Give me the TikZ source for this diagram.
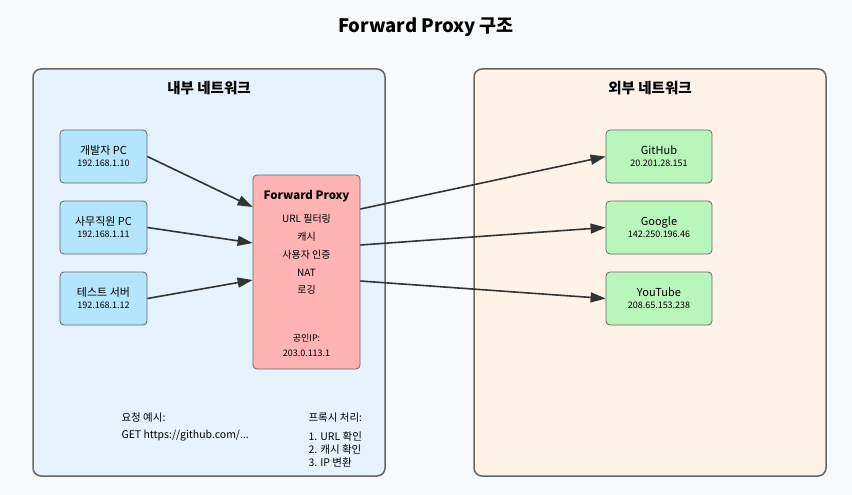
\documentclass[tikz,border=0pt]{standalone}
\usepackage{fontspec}
\setmainfont{Noto Sans CJK KR}
\usetikzlibrary{arrows.meta}
\definecolor{bgcol}{HTML}{F8F9FA}
\definecolor{innercol}{HTML}{E6F3FE}
\definecolor{outercol}{HTML}{FFF3E7}
\definecolor{clientcol}{HTML}{B3E5FC}
\definecolor{proxycol}{HTML}{FFB3B3}
\definecolor{servercol}{HTML}{B9F6BC}
\definecolor{edgecol}{HTML}{666666}
\definecolor{arrowcol}{HTML}{333333}

\begin{document}
\begin{tikzpicture}[x=1pt, y=-1pt]
    \tikzstyle{panel}=[draw=edgecol, line width=1.5pt, rounded corners=8pt, minimum width=352pt, minimum height=407pt, inner sep=0pt]
    \tikzstyle{host}=[draw=edgecol, line width=0.8pt, rounded corners=4pt, minimum width=87pt, minimum height=53pt, align=center, inner sep=0pt, font=\fontsize{11}{15}\selectfont]
    \tikzstyle{ip}=[font=\fontsize{9}{10}\selectfont]
    \tikzstyle{item}=[font=\fontsize{10}{11}\selectfont]
    \tikzstyle{note}=[anchor=west, font=\fontsize{10.5}{13}\selectfont]
    \tikzstyle{link}=[-{Triangle[length=15pt, width=10pt]}, draw=arrowcol, line width=1.6pt, fill=arrowcol]

    % Background
    \fill[bgcol] (0,0) rectangle (852,495);
    \useasboundingbox (0,0) rectangle (852,495);

    % Title
    \node[font=\fontsize{18.5}{20}\selectfont\bfseries] (title) at (426, 27) {Forward Proxy 구조};

    % Networks
    \node[panel, fill=innercol] (inner) at (209, 272.5) {};
    \node[panel, fill=outercol] (outer) at (650, 272.5) {};
    \node[font=\fontsize{14.5}{16}\selectfont\bfseries] (innerlabel) at (209, 88) {내부 네트워크};
    \node[font=\fontsize{14.5}{16}\selectfont\bfseries] (outerlabel) at (650, 88) {외부 네트워크};

    % Clients
    \node[host, fill=clientcol] (dev) at (103.5, 156.5) {개발자 PC\\[-3pt]{\fontsize{9}{10}\selectfont 192.168.1.10}};
    \node[host, fill=clientcol] (office) at (103.5, 227.5) {사무직원 PC\\[-3pt]{\fontsize{9}{10}\selectfont 192.168.1.11}};
    \node[host, fill=clientcol] (test) at (103.5, 298.5) {테스트 서버\\[-3pt]{\fontsize{9}{10}\selectfont 192.168.1.12}};

    % Proxy
    \node[draw=edgecol, line width=0.8pt, rounded corners=4pt, fill=proxycol, minimum width=107pt, minimum height=194pt] (proxy) at (306.5, 272) {};
    \node[font=\fontsize{11.5}{12}\selectfont\bfseries] (pname) at (306.5, 196) {Forward Proxy};
    \node[item] (f1) at (306.5, 219) {URL 필터링};
    \node[item] (f2) at (306.5, 237) {캐시};
    \node[item] (f3) at (306.5, 255) {사용자 인증};
    \node[item] (f4) at (306.5, 273) {NAT};
    \node[item] (f5) at (306.5, 290) {로깅};
    \node[ip] (pubip) at (306.5, 338) {공인IP:};
    \node[ip] (pubaddr) at (306.5, 353) {203.0.113.1};

    % Servers
    \node[host, fill=servercol, minimum width=106pt] (github) at (659, 156.5) {GitHub\\[-3pt]{\fontsize{9}{10}\selectfont 20.201.28.151}};
    \node[host, fill=servercol, minimum width=106pt] (google) at (659, 227.5) {Google\\[-3pt]{\fontsize{9}{10}\selectfont 142.250.196.46}};
    \node[host, fill=servercol, minimum width=106pt] (youtube) at (659, 298.5) {YouTube\\[-3pt]{\fontsize{9}{10}\selectfont 208.65.153.238}};

    % Connections
    \draw[link] (dev.east) -- ([yshift=65pt]proxy.west);
    \draw[link] (office.east) -- ([yshift=29pt]proxy.west);
    \draw[link] (test.east) -- ([yshift=-8pt]proxy.west);
    \draw[link] ([yshift=63pt]proxy.east) -- (github.west);
    \draw[link] ([yshift=27pt]proxy.east) -- (google.west);
    \draw[link] ([yshift=-9pt]proxy.east) -- (youtube.west);

    % Notes
    \node[note] (req) at (118, 418) {요청 예시:};
    \node[note] (reqex) at (118, 436) {GET https://github.com/...};
    \node[note] (proc) at (305, 418) {프록시 처리:};
    \node[note, align=left] (steps) at (305, 449) {1. URL 확인\\2. 캐시 확인\\3. IP 변환};
\end{tikzpicture}
\end{document}
